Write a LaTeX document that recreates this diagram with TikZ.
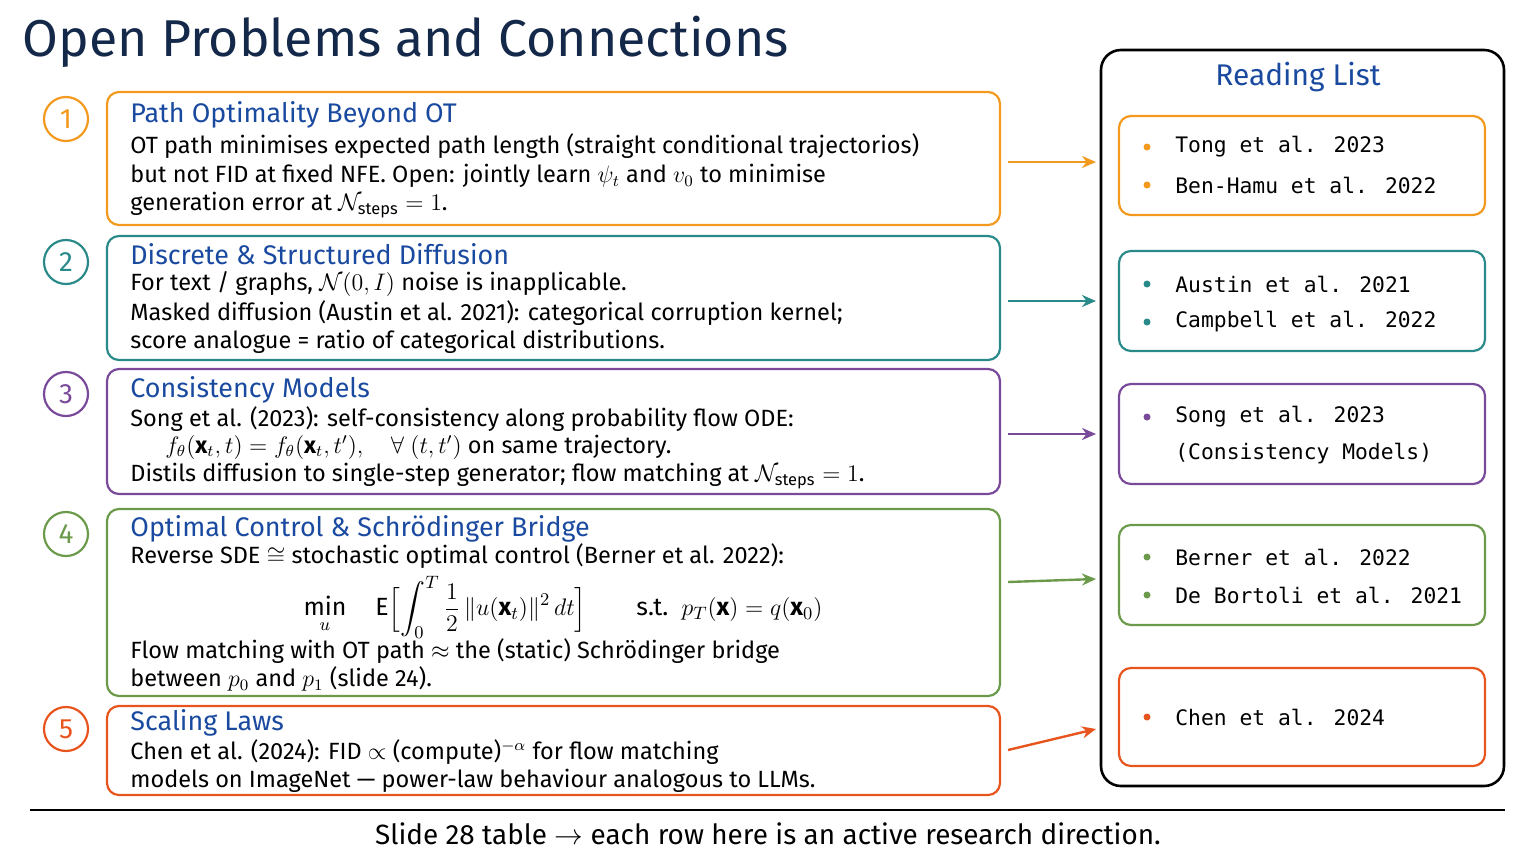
\documentclass[tikz,border=0pt]{standalone}
\usepackage{amsmath,amssymb}
\usepackage{fontspec}
\setmainfont{Fira Sans}
\newfontfamily\monof{DejaVu Sans Mono}
\usetikzlibrary{arrows.meta}
\definecolor{navy}{HTML}{14284A}
\definecolor{hblue}{HTML}{1A4AA0}
\definecolor{cO}{HTML}{F39A1E}
\definecolor{cT}{HTML}{2A8A8A}
\definecolor{cP}{HTML}{7A4A9A}
\definecolor{cG}{HTML}{6A9A4A}
\definecolor{cR}{HTML}{E8541E}
\begin{document}
\begin{tikzpicture}[x=0.5bp,y=-0.5bp,
  box/.style={draw=#1,line width=1.1pt,rounded corners=6pt},
  num/.style={draw=#1,line width=1.1pt,circle,minimum size=22bp,inner sep=0pt,text=#1,font=\fontsize{14}{14}\selectfont},
  head/.style={anchor=west,inner sep=0pt,text=hblue,font=\fontsize{13.5}{13.5}\selectfont},
  body/.style={anchor=west,inner sep=0pt,text=black,font=\fontsize{11.8}{11.8}\selectfont},
  ref/.style={anchor=west,inner sep=0pt,font=\monof\fontsize{10.7}{10.7}\selectfont},
  dot/.style={circle,fill=#1,inner sep=0pt,minimum size=3.5bp},
  arr/.style={draw=#1,line width=1.2pt,-{Stealth[length=7bp,width=6bp]}}]
\useasboundingbox (0,0) rectangle (1536,864);
\node[anchor=west,inner sep=0pt,text=navy,font=\fontsize{26}{26}\selectfont] (title) at (22,42) {Open Problems and Connections};
% left boxes
\draw[box=cO] (107,92) rectangle (1000,225);
\draw[box=cT] (107,236) rectangle (1000,360);
\draw[box=cP] (107,369) rectangle (1000,494);
\draw[box=cG] (107,509) rectangle (1000,696);
\draw[box=cR] (107,706) rectangle (1000,795);
\node[num=cO] (n1) at (66,119) {1};
\node[num=cT] (n2) at (66,262) {2};
\node[num=cP] (n3) at (66,394) {3};
\node[num=cG] (n4) at (66,534) {4};
\node[num=cR] (n5) at (66,729) {5};
% box 1
\node[head] (h1) at (130,115) {Path Optimality Beyond OT};
\node[body] (b11) at (130,146) {OT path minimises expected path length (straight conditional trajectorios)};
\node[body] (b12) at (130,176) {but not FID at fixed NFE. Open: jointly learn $\psi_t$ and $v_0$ to minimise};
\node[body] (b13) at (130,205) {generation error at $\mathcal{N}_{\text{steps}}=1$.};
% box 2
\node[head] (h2) at (130,254) {Discrete \& Structured Diffusion};
\node[body] (b21) at (130,284) {For text / graphs, $\mathcal{N}(0,I)$ noise is inapplicable.};
\node[body] (b22) at (130,313) {Masked diffusion (Austin et al. 2021): categorical corruption kernel;};
\node[body] (b23) at (130,342) {score analogue = ratio of categorical distributions.};
% box 3
\node[head] (h3) at (130,390) {Consistency Models};
\node[body] (b31) at (130,419) {Song et al. (2023): self-consistency along probability flow ODE:};
\node[body] (b32) at (165,447) {$f_\theta(\mathbf{x}_t,t)=f_\theta(\mathbf{x}_t,t'),\quad \forall\ (t,t')$ on same trajectory.};
\node[body] (b33) at (130,476) {Distils diffusion to single-step generator; flow matching at $\mathcal{N}_{\text{steps}}=1$.};
% box 4
\node[head] (h4) at (130,529) {Optimal Control \& Schrödinger Bridge};
\node[body] (b41) at (130,556) {Reverse SDE $\cong$ stochastic optimal control (Berner et al. 2022):};
\node[inner sep=0pt,font=\fontsize{12.5}{12.5}\selectfont] (f4) at (563,607) {$\displaystyle\min_u\quad \mathrm{E}\Bigl[\int_0^T \frac12\,\|u(\mathbf{x}_t)\|^2\,dt\Bigr]\qquad \text{s.t.}\ \ p_T(\mathbf{x})=q(\mathbf{x}_0)$};
\node[body] (b42) at (130,651) {Flow matching with OT path $\approx$ the (static) Schrödinger bridge};
\node[body] (b43) at (130,679) {between $p_0$ and $p_1$ (slide 24).};
% box 5
\node[head] (h5) at (130,723) {Scaling Laws};
\node[body] (b51) at (130,752) {Chen et al. (2024): FID $\propto$ (compute)$^{-\alpha}$ for flow matching};
\node[body] (b52) at (130,781) {models on ImageNet — power-law behaviour analogous to LLMs.};
% reading list
\draw[line width=1.3pt,rounded corners=10pt] (1101,50) rectangle (1504,786);
\node[inner sep=0pt,text=hblue,font=\fontsize{15}{15}\selectfont] (rl) at (1298,77) {Reading List};
\draw[box=cO] (1119,116) rectangle (1485,215);
\draw[box=cT] (1119,251) rectangle (1485,351);
\draw[box=cP] (1119,384) rectangle (1485,484);
\draw[box=cG] (1119,525) rectangle (1485,625);
\draw[box=cR] (1119,668) rectangle (1485,766);
\node[dot=cO] (d11) at (1147,147) {}; \node[ref] (t11) at (1175,147) {Tong et al. 2023};
\node[dot=cO] (d12) at (1147,185) {}; \node[ref] (t12) at (1175,185) {Ben-Hamu et al. 2022};
\node[dot=cT] (d21) at (1147,284) {}; \node[ref] (t21) at (1175,284) {Austin et al. 2021};
\node[dot=cT] (d22) at (1147,322) {}; \node[ref] (t22) at (1175,322) {Campbell et al. 2022};
\node[dot=cP] (d31) at (1147,417) {}; \node[ref] (t31) at (1175,417) {Song et al. 2023};
\node[ref] (t32) at (1175,454) {(Consistency Models)};
\node[dot=cG] (d41) at (1147,557) {}; \node[ref] (t41) at (1175,557) {Berner et al. 2022};
\node[dot=cG] (d42) at (1147,595) {}; \node[ref] (t42) at (1175,595) {De Bortoli et al. 2021};
\node[dot=cR] (d51) at (1147,717) {}; \node[ref] (t51) at (1175,717) {Chen et al. 2024};
% arrows
\coordinate (a1) at (1008,162); \coordinate (e1) at (1096,162);
\coordinate (a2) at (1008,301); \coordinate (e2) at (1096,301);
\coordinate (a3) at (1008,434); \coordinate (e3) at (1096,434);
\coordinate (a4) at (1008,582); \coordinate (e4) at (1096,579);
\coordinate (a5) at (1008,750); \coordinate (e5) at (1096,729);
\draw[arr=cO] (a1) -- (e1);
\draw[arr=cT] (a2) -- (e2);
\draw[arr=cP] (a3) -- (e3);
\draw[arr=cG] (a4) -- (e4);
\draw[arr=cR] (a5) -- (e5);
% footer
\coordinate (l1) at (30,810); \coordinate (l2) at (1505,810);
\draw[line width=0.8pt] (l1) -- (l2);
\node[inner sep=0pt,font=\fontsize{14}{14}\selectfont] (cap) at (768,834) {Slide 28 table $\rightarrow$ each row here is an active research direction.};
\end{tikzpicture}
\end{document}
